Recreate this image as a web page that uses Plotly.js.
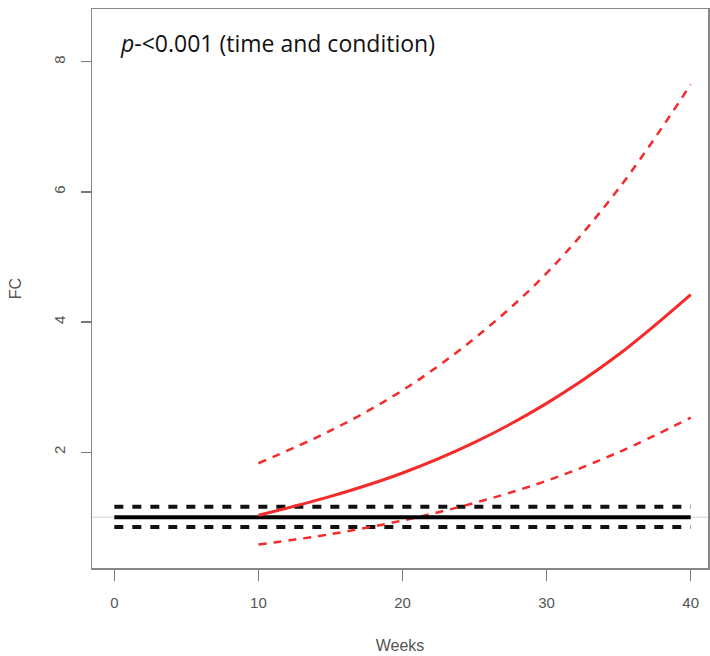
<!DOCTYPE html>
<html><head><meta charset="utf-8">
<script src="https://cdn.plot.ly/plotly-3.0.1.min.js"></script>
<style>html,body{margin:0;padding:0;background:#fff;}</style>
</head><body>
<div id="chart" style="width:710px;height:656px;"></div>
<script>
// Reference (control) group: flat at FC = 1
var ctrlWeeks = [0, 40];
var ctrlFit = [1.0, 1.0];
var ctrlUpper = [1.16, 1.16];
var ctrlLower = [0.85, 0.85];

// Condition group
var condWeeks = [10, 15, 20, 25, 30, 35, 40];
var condFit   = [1.03, 1.32, 1.68, 2.15, 2.75, 3.50, 4.42];
var condUpper = [1.83, 2.33, 2.95, 3.75, 4.75, 6.05, 7.65];
var condLower = [0.58, 0.74, 0.95, 1.22, 1.56, 2.00, 2.53];

var xTicks = [0, 10, 20, 30, 40];
var yTicks = [2, 4, 6, 8];

var red = '#f52a2a';
var traces = [
  {x: ctrlWeeks, y: ctrlUpper, mode: 'lines', line: {color: '#111', width: 4, dash: '9px,9px'}},
  {x: ctrlWeeks, y: ctrlLower, mode: 'lines', line: {color: '#111', width: 4, dash: '9px,9px'}},
  {x: condWeeks, y: condUpper, mode: 'lines', line: {color: red, width: 2.5, dash: '8px,7px', shape: 'spline'}},
  {x: condWeeks, y: condLower, mode: 'lines', line: {color: red, width: 2.5, dash: '8px,7px', shape: 'spline'}},
  {x: ctrlWeeks, y: ctrlFit, mode: 'lines', line: {color: '#000', width: 4}},
  {x: condWeeks, y: condFit, mode: 'lines', line: {color: red, width: 3, shape: 'spline'}}
];

var tickFont = {family: 'Liberation Sans, Arial, sans-serif', size: 15, color: '#555'};
var titleFont = {family: 'Liberation Sans, Arial, sans-serif', size: 16, color: '#555'};
var layout = {
  width: 710, height: 656,
  margin: {l: 92, r: 2, t: 9, b: 88},
  paper_bgcolor: '#fff', plot_bgcolor: '#fff',
  showlegend: false,
  xaxis: {
    range: [-1.55, 41.2], tickvals: xTicks, ticktext: xTicks.map(String),
    showgrid: false, zeroline: false, showline: true, mirror: true,
    linecolor: '#888', linewidth: 1.5, ticks: 'outside', ticklen: 11, tickwidth: 1.3, tickcolor: '#777',
    tickfont: tickFont, ticklabelstandoff: 9,
    title: {text: 'Weeks', font: titleFont, standoff: 30}
  },
  yaxis: {
    range: [0.22, 8.81], tickvals: yTicks, ticktext: yTicks.map(String),
    showgrid: false, zeroline: false, showline: true, mirror: true,
    linecolor: '#888', linewidth: 1.5, ticks: 'outside', ticklen: 10, tickwidth: 1.3, tickcolor: '#777',
    tickfont: tickFont, tickangle: -90, ticklabelstandoff: 10,
    title: {text: 'FC', font: titleFont, standoff: 25}
  },
  shapes: [
    {type: 'line', xref: 'paper', x0: 0, x1: 1, yref: 'y', y0: 1, y1: 1, line: {color: '#d0d0d0', width: 1}, layer: 'below'}
  ],
  annotations: [
    {xref: 'paper', yref: 'paper', x: 0.042, y: 0.94, xanchor: 'left', yanchor: 'middle', showarrow: false,
     text: '<i>p</i>-<0.001 (time and condition)',
     font: {family: 'Open Sans, sans-serif', size: 23, color: '#111'}}
  ]
};
Plotly.newPlot('chart', traces, layout, {displayModeBar: false, staticPlot: true});
</script>
</body></html>
